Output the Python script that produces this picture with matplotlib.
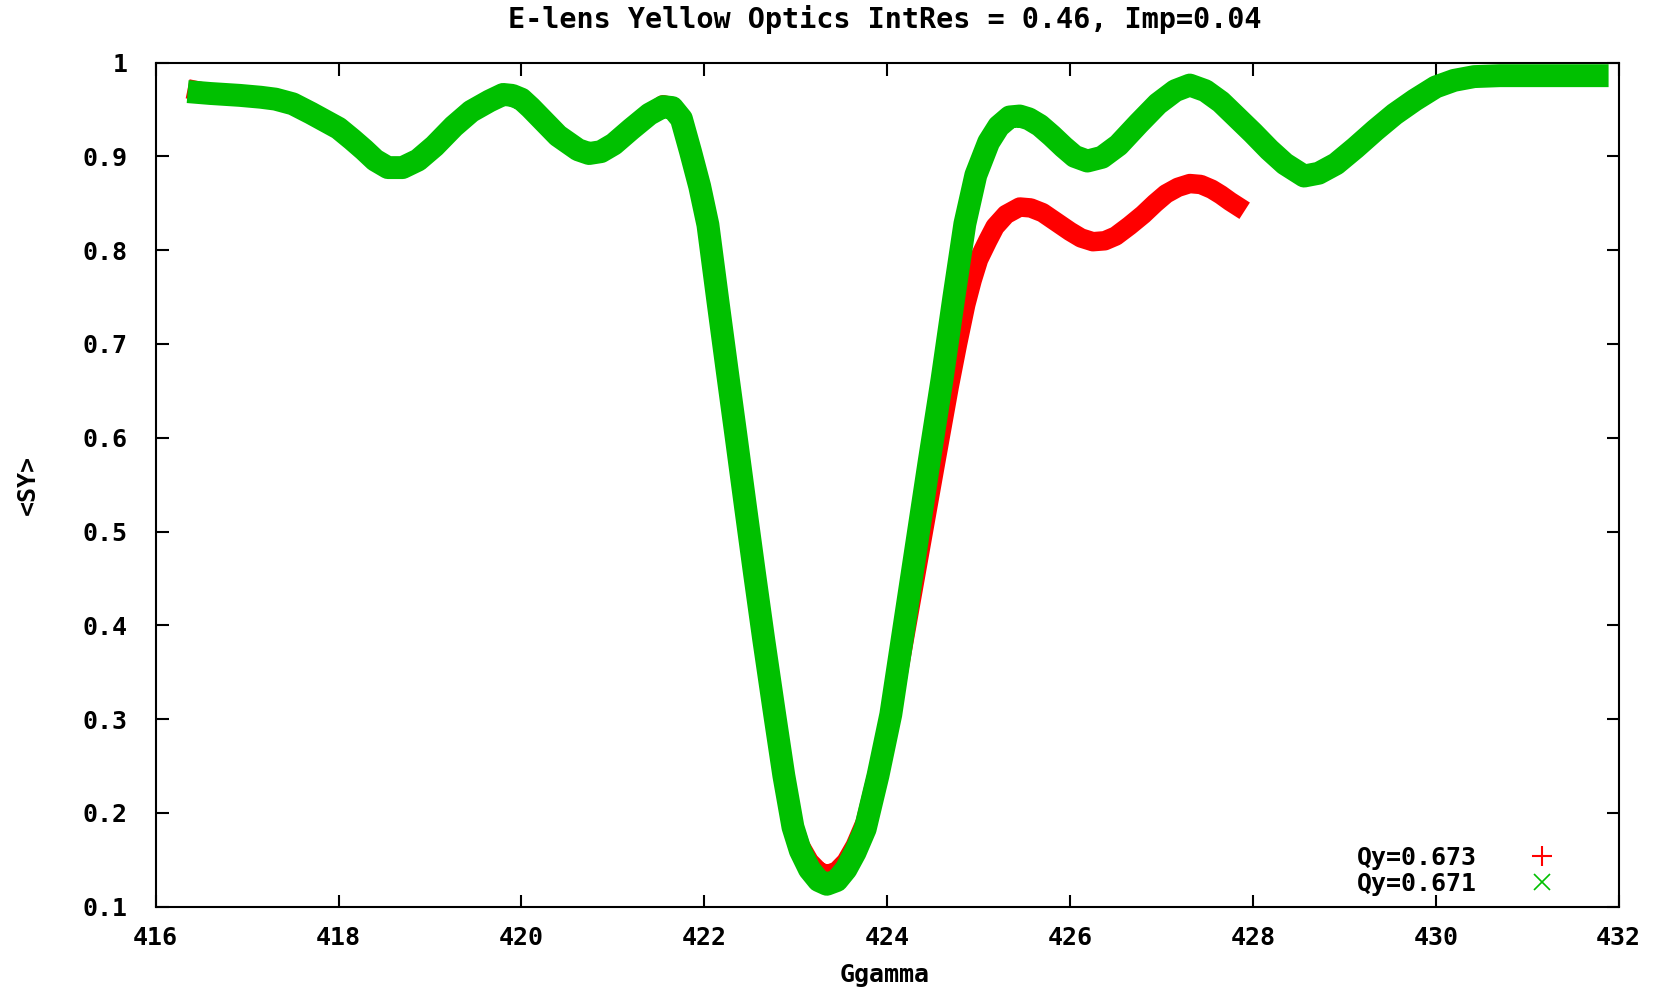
import matplotlib
matplotlib.use('Agg')
import matplotlib.pyplot as plt
from matplotlib.lines import Line2D

# Ggamma values and <SY>
gg_green = [416.35, 416.6, 416.92, 417.15, 417.31, 417.5, 417.7, 417.85,
            418.0, 418.15, 418.28, 418.4, 418.54, 418.7, 418.87, 419.05,
            419.26, 419.45, 419.65, 419.8, 419.9, 420.0, 420.1, 420.23,
            420.4, 420.62, 420.74, 420.87, 421.01, 421.2, 421.4, 421.55,
            421.65, 421.75, 421.85, 421.95, 422.04, 422.15, 422.25, 422.35,
            422.45, 422.55, 422.65, 422.77, 422.87, 422.97, 423.05, 423.15,
            423.25, 423.34, 423.45, 423.55, 423.65, 423.76, 423.9, 424.04,
            424.18, 424.32, 424.46, 424.6, 424.73, 424.85, 424.97, 425.11,
            425.22, 425.34, 425.45, 425.55, 425.67, 425.8, 425.93, 426.05,
            426.19, 426.35, 426.53, 426.75, 426.96, 427.15, 427.31, 427.48,
            427.65, 427.82, 428.0, 428.18, 428.35, 428.56, 428.72, 428.91,
            429.12, 429.34, 429.55, 429.77, 430.0, 430.2, 430.42, 430.7,
            431.0, 431.4, 431.72, 431.89]
sy_green = [0.969, 0.967, 0.965, 0.963, 0.961, 0.956, 0.946, 0.938,
            0.930, 0.918, 0.907, 0.896, 0.888, 0.888, 0.896, 0.911,
            0.932, 0.948, 0.959, 0.966, 0.965, 0.961, 0.952, 0.939,
            0.922, 0.907, 0.903, 0.905, 0.913, 0.929, 0.945, 0.953,
            0.952, 0.940, 0.905, 0.868, 0.827, 0.745, 0.672, 0.600,
            0.527, 0.455, 0.385, 0.305, 0.240, 0.185, 0.160, 0.140,
            0.128, 0.124, 0.128, 0.140, 0.158, 0.183, 0.240, 0.305,
            0.395, 0.485, 0.575, 0.662, 0.750, 0.828, 0.880, 0.915,
            0.932, 0.942, 0.943, 0.940, 0.933, 0.922, 0.910, 0.900,
            0.895, 0.899, 0.912, 0.935, 0.956, 0.970, 0.976, 0.970,
            0.958, 0.942, 0.925, 0.907, 0.892, 0.879, 0.882, 0.892,
            0.909, 0.928, 0.945, 0.960, 0.974, 0.981, 0.985, 0.986,
            0.986, 0.986, 0.986, 0.986]

gg_red = [416.35, 416.6, 416.92, 417.15, 417.31, 417.5, 417.7, 417.85,
          418.0, 418.15, 418.28, 418.4, 418.54, 418.7, 418.87, 419.05,
          419.26, 419.45, 419.65, 419.8, 419.9, 420.0, 420.1, 420.23,
          420.4, 420.62, 420.74, 420.87, 421.01, 421.2, 421.4, 421.55,
          421.65, 421.75, 421.85, 421.95, 422.04, 422.15, 422.25, 422.35,
          422.45, 422.55, 422.65, 422.77, 422.87, 422.97, 423.05, 423.15,
          423.25, 423.34, 423.45, 423.55, 423.65, 423.76, 423.9, 424.04,
          424.2, 424.36, 424.52, 424.68, 424.77, 424.86, 424.93, 425.0,
          425.1, 425.18, 425.3, 425.45, 425.57, 425.7, 425.85, 426.0,
          426.12, 426.25, 426.38, 426.5, 426.65, 426.8, 426.93, 427.05,
          427.18, 427.31, 427.43, 427.55, 427.65, 427.75, 427.91]
sy_red = [0.972, 0.967, 0.965, 0.963, 0.961, 0.956, 0.946, 0.938,
          0.930, 0.918, 0.907, 0.896, 0.889, 0.889, 0.896, 0.911,
          0.932, 0.948, 0.959, 0.966, 0.965, 0.961, 0.952, 0.939,
          0.922, 0.907, 0.903, 0.905, 0.913, 0.929, 0.945, 0.955,
          0.953, 0.940, 0.905, 0.868, 0.827, 0.745, 0.672, 0.600,
          0.527, 0.455, 0.385, 0.305, 0.242, 0.188, 0.165, 0.148,
          0.138, 0.134, 0.138, 0.148, 0.165, 0.190, 0.245, 0.305,
          0.392, 0.480, 0.568, 0.655, 0.700, 0.742, 0.768, 0.790,
          0.810, 0.825, 0.838, 0.846, 0.845, 0.840, 0.830, 0.820,
          0.813, 0.809, 0.810, 0.815, 0.826, 0.838, 0.850, 0.860,
          0.867, 0.871, 0.870, 0.865, 0.859, 0.852, 0.842]

labels = ['Qy=0.673', 'Qy=0.671']
title = 'E-lens Yellow Optics IntRes = 0.46, Imp=0.04'

font = {'family': 'DejaVu Sans Mono', 'weight': 'bold'}
fs = 18

fig = plt.figure(figsize=(16.61, 9.88), dpi=100)
ax = fig.add_axes([0.0937, 0.0822, 0.8808, 0.8545])

red = '#ff0000'
green = '#00c000'

ax.plot(gg_red, sy_red, color=red, lw=14, solid_capstyle='butt',
        solid_joinstyle='round')
ax.plot(gg_green, sy_green, color=green, lw=16.5, solid_capstyle='butt',
        solid_joinstyle='round')

ax.set_xlim(416, 432)
ax.set_ylim(0.1, 1.0)
ax.set_xticks(range(416, 433, 2))
ax.set_yticks([0.1, 0.2, 0.3, 0.4, 0.5, 0.6, 0.7, 0.8, 0.9, 1.0])
ax.set_yticklabels(['0.1', '0.2', '0.3', '0.4', '0.5', '0.6', '0.7', '0.8', '0.9', '1'])
ax.tick_params(direction='in', length=9, width=1.5, top=True, right=True)
ax.tick_params(axis='y', pad=20)
ax.tick_params(axis='x', pad=14)
for lab in ax.get_xticklabels() + ax.get_yticklabels():
    lab.set_fontfamily('DejaVu Sans Mono')
    lab.set_fontweight('bold')
    lab.set_fontsize(fs)
for s in ax.spines.values():
    s.set_linewidth(1.5)

fig.text(0.5325, 0.9798, title, ha='center', va='center', fontsize=20.5, **font)
ax.set_xlabel('Ggamma', fontsize=fs, **font)
ax.xaxis.set_label_coords(0.498, -0.067)
ax.set_ylabel('<SY>', fontsize=fs, **font)
ax.yaxis.set_label_coords(-0.079, 0.5)

handles = [Line2D([], [], color=red, ls='none', marker='+', ms=14, mew=1.5),
           Line2D([], [], color=green, ls='none', marker='x', ms=12, mew=1.2)]
leg = ax.legend(handles, labels, loc='lower right', frameon=False,
                markerfirst=False, handletextpad=1.6, handlelength=2,
                labelspacing=0.08, borderaxespad=0, borderpad=0.3,
                bbox_to_anchor=(0.970, 0.004),
                prop={'family': 'DejaVu Sans Mono', 'weight': 'bold',
                      'size': fs})

fig.savefig('out.png', dpi=100)
